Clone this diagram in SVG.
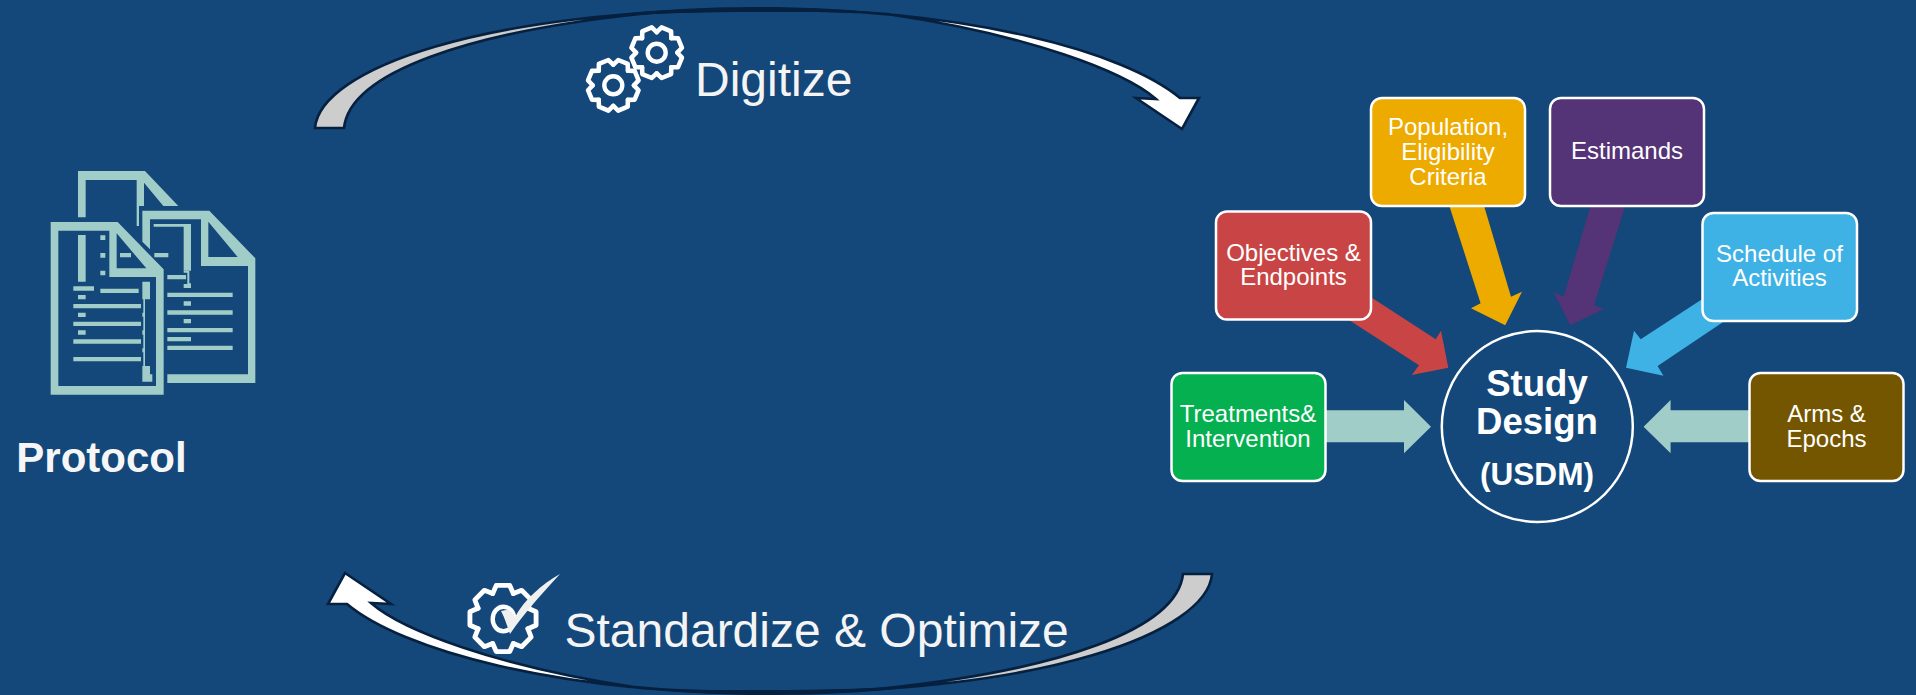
<svg xmlns="http://www.w3.org/2000/svg" xmlns:xlink="http://www.w3.org/1999/xlink" width="1916" height="695" viewBox="0 0 1916 695">
<style>
text{font-family:"Liberation Sans",Arial,sans-serif;fill:#fff;text-anchor:middle}
.l{font-size:24px}
.b{font-weight:bold}
.big{font-size:48px;fill:#f4f4f4;text-anchor:start}
.box{stroke:#fff;stroke-width:2.5}
.gear{fill:none;stroke:#fff;stroke-width:4.4;stroke-linejoin:round;stroke-linecap:round}
.ic{fill:#a1cdc8}
.edge{fill:none;stroke:#06203f;stroke-width:2.6;stroke-linejoin:miter}
</style>
<defs>
<path id="t" d="M-7.65 -18.5L-5 -24.5L5 -24.5L7.65 -18.5"/>
<g id="gearRing">
<use xlink:href="#t"/><use xlink:href="#t" transform="rotate(45)"/><use xlink:href="#t" transform="rotate(90)"/><use xlink:href="#t" transform="rotate(135)"/><use xlink:href="#t" transform="rotate(180)"/><use xlink:href="#t" transform="rotate(225)"/><use xlink:href="#t" transform="rotate(270)"/><use xlink:href="#t" transform="rotate(315)"/>
</g>
<g id="curve">
<path d="M315 128C320 70 480 9 763 9C700 9 670 11 640 14C470 32 350 72 344 128Z" fill="#cdcdcd"/>
<path d="M763 9C970 9 1125 52 1180 98L1199 98L1182 129L1136 98L1156 99C1125 72 1030 35 887 14C850 10 800 9 763 9Z" fill="#fff"/>
<path class="edge" d="M315 128C320 70 480 9 763 9C970 9 1125 52 1180 98L1199 98L1182 129L1136 98L1156 99C1125 72 1030 35 887 14C830 9 690 9 640 14C470 32 350 72 344 128Z"/>
<path d="M590 19C640 10 700 7 763 7C800 7 850 9 900 15C850 11 800 12 763 12C700 12 640 13 590 19Z" fill="#06203f"/>
</g>
</defs>
<rect width="1916" height="695" fill="#14477a"/>
<g id="connectors">
<polygon fill="#a1cdc8" points="1325,410.3 1404,410.3 1404,400 1431,426.7 1404,453.3 1404,442.3 1325,442.3"/>
<polygon fill="#a1cdc8" points="1749,410.3 1670.6,410.3 1670.6,400 1643.6,426.7 1670.6,453.3 1670.6,442.3 1749,442.3"/>
<polygon fill="#c94545" points="1372.6,298.3 1435.8,339.3 1441,330.7 1448.3,367.7 1411.7,375 1419,365.3 1347,318.7"/>
<polygon fill="#edab00" points="1449.3,205.7 1484,205.7 1511,296.7 1522,291.7 1505.2,325.3 1471,308.3 1480.6,303.3"/>
<polygon fill="#553377" points="1590.6,205.7 1625.3,205.7 1594,305 1603.6,309 1570.3,325.3 1553.5,291.7 1563.6,296.7"/>
<polygon fill="#3fb2e5" points="1702,299.3 1640.7,339.3 1634,330.7 1626,367.7 1663.4,375.7 1657.6,366 1725,320.7"/>
<use xlink:href="#curve"/>
<use xlink:href="#curve" transform="translate(1527 702) scale(-1 -1)"/>
</g>
<g id="protocol-icon" class="ic" transform="translate(30 150) scale(.33333)">
<path d="M144 202V63H345L445 168H400L342 98V168H327V228H320V90H167V202Z"/>
<path fill-rule="evenodd" d="M337 182H538L676 325V699H412V673H654V348H513V208H360V298L337 275ZM535 215L623 321H535Z"/>
<path d="M371 222H483V362H461V230H371Z"/>
<path d="M461 362H478V400H483V414H461V402H472V368H461Z"/>
<path d="M412 375h56v13h-56zM412 428h196v13H412zM461 454h22v13h-22zM412 481h196v13H412zM461 507h22v13h-22zM412 534h196v13H412zM412 561h71v13h-71zM412 587h196v13H412zM270 309h33v13h-33zM373 309h42v13h-42z"/>
<path fill-rule="evenodd" d="M62 216H263L401 358V734H62ZM85 242V708H378V381H238V242ZM260 250V355H349Z"/>
<path d="M144 255h23v140h-23zM211 256h15v14h-15zM211 309h15v14h-15zM211 362h15v14h-15zM130 409h62v13h-62zM211 416h115v13H211zM144 435h23v13h-23zM130 462h203v13H130zM144 488h23v13h-23zM130 515h203v13H130zM144 541h23v13h-23zM130 568h203v13H130zM130 621h203v13H130z"/>
<path d="M337 395h23v53h-23zM340 448h5v40h-5zM337 488h8v12h-8zM340 500h5v41h-5zM337 541h8v13h-8zM340 554h5v41h-5zM337 595h8v12h-8zM340 607h5v41h-5zM337 648h23v25h7v22h-30z"/>
</g>
<g id="protocol-label"><text class="b" x="101.5" y="472" font-size="42" style="fill:#f6f6f6">Protocol</text></g>
<g id="digitize">
<g class="gear" transform="translate(613.3 85.3) rotate(22.5) scale(1.03)"><use xlink:href="#gearRing"/></g>
<circle class="gear" cx="613.3" cy="85.3" r="9"/>
<g class="gear" transform="translate(656.7 52.7) rotate(22.5) scale(1.03)"><use xlink:href="#gearRing"/></g>
<circle class="gear" cx="656.7" cy="52.7" r="9"/>
<text class="big" x="695" y="96">Digitize</text>
</g>
<g id="standardize">
<g class="gear" transform="translate(503 618.5) scale(1.35)" style="stroke-width:3.6"><use xlink:href="#gearRing"/></g>
<ellipse class="gear" cx="503.5" cy="619" rx="10.8" ry="12.3"/>
<path fill="#f0f0f0" d="M560 574C542 584 524 600 515 617C513 614 511 610 506 610L501 611C505 618 507 626 510 634C522 616 538 598 560 574Z"/>
<text class="big" x="564.5" y="647">Standardize &amp; Optimize</text>
</g>
<g id="objectives"><rect class="box" x="1216" y="211.5" width="155" height="108" rx="11" fill="#c94545"/><text class="l" x="1293.5" y="261">Objectives &amp;</text><text class="l" x="1293.5" y="285">Endpoints</text></g>
<g id="population"><rect class="box" x="1371" y="98" width="154" height="108" rx="11" fill="#edab00"/><text class="l" x="1448" y="135">Population,</text><text class="l" x="1448" y="160">Eligibility</text><text class="l" x="1448" y="185">Criteria</text></g>
<g id="estimands"><rect class="box" x="1550" y="98" width="154" height="108" rx="11" fill="#553377"/><text class="l" x="1627" y="159">Estimands</text></g>
<g id="schedule"><rect class="box" x="1702.5" y="213" width="154.5" height="108" rx="11" fill="#3fb2e5"/><text class="l" x="1779.5" y="262">Schedule of</text><text class="l" x="1779.5" y="286">Activities</text></g>
<g id="treatments"><rect class="box" x="1171.5" y="373" width="154" height="108" rx="11" fill="#04b050"/><text class="l" x="1248" y="421.5">Treatments&amp;</text><text class="l" x="1248" y="446.5">Intervention</text></g>
<g id="arms"><rect class="box" x="1749.5" y="373" width="154" height="108" rx="11" fill="#745600"/><text class="l" x="1826.5" y="421.5">Arms &amp;</text><text class="l" x="1826.5" y="446.5">Epochs</text></g>
<g id="study-design"><circle cx="1537.3" cy="426.5" r="95.5" fill="#14477a" stroke="#fff" stroke-width="2.5"/><text class="b" x="1537" y="396" font-size="36.6">Study</text><text class="b" x="1537" y="434" font-size="36.6">Design</text><text class="b" x="1537" y="484.5" font-size="31.6">(USDM)</text></g>
</svg>
